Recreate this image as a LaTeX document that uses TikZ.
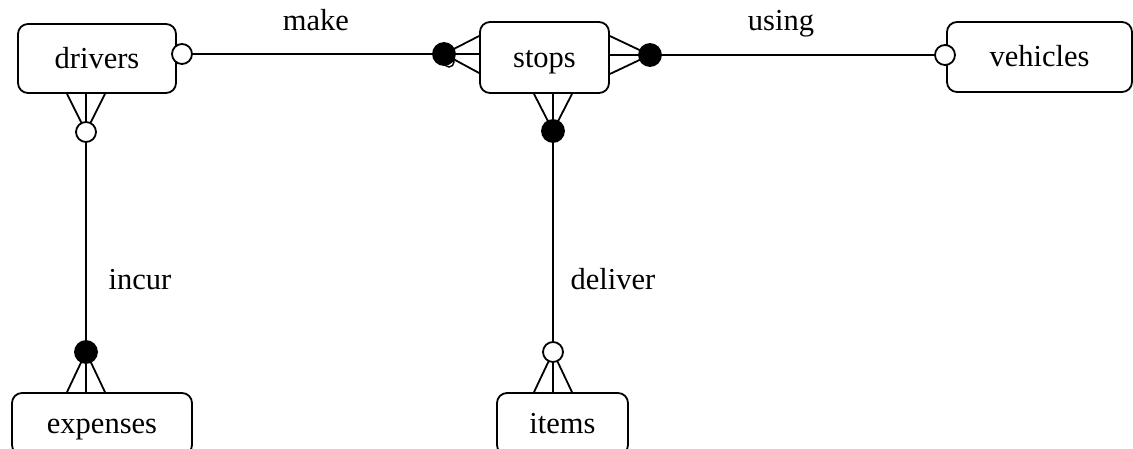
\documentclass[tikz,border=0pt]{standalone}
\usepackage{fontspec}
\setmainfont{Liberation Serif}
\begin{document}
\begin{tikzpicture}[x=1pt,y=-1pt, line width=1.8pt,
  entity/.style={draw, rounded corners=10pt, inner sep=0pt,
    font=\fontsize{30.5}{36}\selectfont, text height=21pt, text depth=2pt},
  ocirc/.style={circle, draw, fill=white, minimum size=20pt, inner sep=0pt},
  fcirc/.style={circle, draw, fill=black, minimum size=22pt, inner sep=0pt},
  lbl/.style={font=\fontsize{30.5}{36}\selectfont, inner sep=0pt, anchor=base}]
\useasboundingbox (0,0) rectangle (1133,448);

% entities
\node[entity, minimum width=158pt, minimum height=69pt] (drivers) at (97,58.5) {drivers};
\node[entity, minimum width=129pt, minimum height=71pt] (stops) at (544.5,57.5) {stops};
\node[entity, minimum width=185pt, minimum height=70pt] (vehicles) at (1039.5,57) {vehicles};
\node[entity, minimum width=180pt, minimum height=62pt] (expenses) at (102,424) {expenses};
\node[entity, minimum width=131pt, minimum height=62pt] (items) at (562.5,424) {items};

% circle positions
\coordinate (pdR) at (182,54);
\coordinate (psL) at (444,54);
\coordinate (psR) at (650,55);
\coordinate (pvL) at (945,55);
\coordinate (pdB) at (86,132);
\coordinate (peT) at (86,352);
\coordinate (psB) at (553,131);
\coordinate (piT) at (553,352);

% crow's feet
\draw (psL) -- (stops.west |- 0,36);
\draw (psL) -- (stops.west |- 0,54);
\draw (psL) -- (stops.west |- 0,73);
\draw (psR) -- (stops.east |- 0,36);
\draw (psR) -- (stops.east |- 0,55);
\draw (psR) -- (stops.east |- 0,74);
\draw (pdB) -- (drivers.south -| 67,0);
\draw (pdB) -- (drivers.south -| 86,0);
\draw (pdB) -- (drivers.south -| 105,0);
\draw (peT) -- (expenses.north -| 67,0);
\draw (peT) -- (expenses.north -| 86,0);
\draw (peT) -- (expenses.north -| 105,0);
\draw (psB) -- (stops.south -| 534,0);
\draw (psB) -- (stops.south -| 553,0);
\draw (psB) -- (stops.south -| 572,0);
\draw (piT) -- (items.north -| 534,0);
\draw (piT) -- (items.north -| 553,0);
\draw (piT) -- (items.north -| 572,0);

% small stray circle under the left filled circle
\draw[line width=1.4pt] (449,62) circle (5pt);

% circles
\node[ocirc] (cdR) at (pdR) {};
\node[fcirc] (csL) at (psL) {};
\node[fcirc] (csR) at (psR) {};
\node[ocirc] (cvL) at (pvL) {};
\node[ocirc] (cdB) at (pdB) {};
\node[fcirc] (ceT) at (peT) {};
\node[fcirc] (csB) at (psB) {};
\node[ocirc] (ciT) at (piT) {};

% relationships
\draw (cdR) -- (csL);
\draw (csR) -- (cvL);
\draw (cdB) -- (ceT);
\draw (csB) -- (ciT);

% labels
\node[lbl] (make) at (316,30) {make};
\node[lbl] (using) at (781,30) {using};
\node[lbl] (incur) at (140,289) {incur};
\node[lbl] (deliver) at (613,289) {deliver};
\end{tikzpicture}
\end{document}
